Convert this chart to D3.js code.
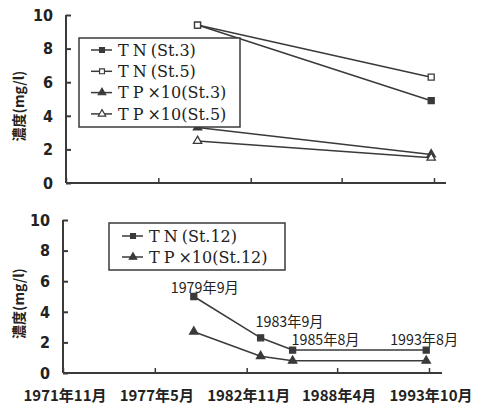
<!DOCTYPE html>
<html>
<head>
<meta charset="utf-8">
<script src="https://cdn.jsdelivr.net/npm/d3@7"></script>
<style>
  body { margin: 0; background: #fff; }
  svg { display: block; }
</style>
</head>
<body>
<svg id="chart" width="483" height="406"></svg>
<script>
// Survey dates and nutrient concentrations (mg/l); TP is shown ×10
const axisDates = ["1971-11", "1977-05", "1982-11", "1988-04", "1993-10"];
const axisLabels = ["1971年11月", "1977年5月", "1982年11月", "1988年4月", "1993年10月"];
const yTicks = [0, 2, 4, 6, 8, 10];

const datesUpper = ["1979-09", "1993-08"];
const tnSt3 = [9.4, 4.9];
const tnSt5 = [9.4, 6.3];
const tpSt3 = [3.3, 1.7];
const tpSt5 = [2.5, 1.5];

const datesLower = ["1979-09", "1983-09", "1985-08", "1993-08"];
const dateNotes = ["1979年9月", "1983年9月", "1985年8月", "1993年8月"];
const tnSt12 = [5.0, 2.3, 1.5, 1.5];
const tpSt12 = [2.7, 1.1, 0.8, 0.8];

const parse = d3.timeParse("%Y-%m");
const ink = "#3a3a3a";
const svg = d3.select("#chart");

function panel(opt) {
  const g = svg.append("g");
  const x = d3.scaleTime()
    .domain([parse(axisDates[0]), parse(axisDates[4])])
    .range([opt.x0, opt.x1]);
  const y = d3.scaleLinear().domain([0, 10]).range([opt.yb, opt.yt]);

  // y axis with inward ticks
  const ya = g.append("g").attr("transform", `translate(${opt.x0},0)`)
    .call(d3.axisRight(y).tickValues(yTicks).tickSize(5).tickFormat(""));
  ya.select(".domain").attr("stroke", ink).attr("stroke-width", 2)
    .attr("d", `M0,${opt.yt}V${opt.yb}`);
  ya.selectAll(".tick line").attr("stroke", ink).attr("stroke-width", 2);

  g.selectAll(".ylab").data(yTicks).join("text")
    .attr("x", opt.x0 - 13).attr("y", d => y(d)).attr("dy", "0.36em")
    .attr("text-anchor", "end")
    .style("font", "bold 16px 'DejaVu Sans Condensed', 'DejaVu Sans', sans-serif")
    .attr("fill", "#222").text(d => d);

  // x axis with small inward ticks
  const xa = g.append("g").attr("transform", `translate(0,${opt.yb})`)
    .call(d3.axisTop(x).tickValues(axisDates.map(parse)).tickSize(5).tickFormat(""));
  xa.select(".domain").attr("stroke", ink).attr("stroke-width", 2)
    .attr("d", `M${opt.x0},0H${opt.xEnd}`);
  xa.selectAll(".tick line").attr("stroke", ink).attr("stroke-width", 1.5);

  // y title
  g.append("text")
    .attr("transform", `translate(${opt.titleX},${(opt.yt + opt.yb) / 2 + 7}) rotate(-90)`)
    .attr("text-anchor", "middle")
    .style("font", "bold 14px 'Noto Sans CJK JP', sans-serif")
    .attr("fill", "#222").text("濃度(mg/l)");

  return { g, x, y };
}

const sym = {
  square: d3.symbol().type(d3.symbolSquare).size(36),
  triangle: d3.symbol().type(d3.symbolTriangle).size(30)
};

function series(p, dates, vals, shape, filled) {
  const pts = dates.map((d, i) => [p.x(parse(d)), p.y(vals[i])]);
  p.g.append("path").attr("d", d3.line()(pts))
    .attr("fill", "none").attr("stroke", ink).attr("stroke-width", 1.5);
  p.g.selectAll(null).data(pts).join("path")
    .attr("transform", d => `translate(${d[0]},${d[1]})`)
    .attr("d", sym[shape]())
    .attr("fill", filled ? ink : "#fff")
    .attr("stroke", ink).attr("stroke-width", 1.3);
}

function legend(p, box, items) {
  const lg = p.g.append("g");
  lg.append("rect").attr("x", box.x).attr("y", box.y)
    .attr("width", box.w).attr("height", box.h)
    .attr("fill", "#fff").attr("stroke", ink).attr("stroke-width", 1.5);
  items.forEach((it, i) => {
    const cy = box.y + box.first + i * box.step;
    lg.append("line").attr("x1", box.lx).attr("x2", box.lx + 21)
      .attr("y1", cy).attr("y2", cy).attr("stroke", ink).attr("stroke-width", 1.5);
    lg.append("path").attr("transform", `translate(${box.lx + 11},${cy})`)
      .attr("d", d3.symbol().type(it.shape === "square" ? d3.symbolSquare : d3.symbolTriangle).size(24)())
      .attr("fill", it.filled ? ink : "#fff")
      .attr("stroke", ink).attr("stroke-width", 1.2);
    const t = lg.append("text").attr("x", box.lx + 27).attr("y", cy).attr("dy", "0.35em")
      .style("font", "16px 'DejaVu Serif', 'Liberation Serif', serif").attr("fill", "#222");
    t.append("tspan").attr("letter-spacing", "4px").text(it.head);
    t.append("tspan").text(it.tail);
  });
}

// Upper panel: St.3 and St.5 (St.5 drawn on top where the first points coincide)
const up = panel({ x0: 66, x1: 434, xEnd: 446, yt: 15, yb: 183, titleX: 24 });
series(up, datesUpper, tnSt3, "square", true);
series(up, datesUpper, tnSt5, "square", false);
series(up, datesUpper, tpSt3, "triangle", true);
series(up, datesUpper, tpSt5, "triangle", false);
legend(up, { x: 79, y: 38, w: 161, h: 89, lx: 91, first: 12, step: 21.3 }, [
  { head: "TN", tail: "(St.3)", shape: "square", filled: true },
  { head: "TN", tail: "(St.5)", shape: "square", filled: false },
  { head: "TP", tail: "×10(St.3)", shape: "triangle", filled: true },
  { head: "TP", tail: "×10(St.5)", shape: "triangle", filled: false }
]);

// Lower panel: St.12 with survey-date notes
const lo = panel({ x0: 63, x1: 429, xEnd: 442, yt: 220, yb: 373, titleX: 24 });
series(lo, datesLower, tnSt12, "square", true);
series(lo, datesLower, tpSt12, "triangle", true);
legend(lo, { x: 109, y: 223, w: 176, h: 47, lx: 122, first: 13, step: 21 }, [
  { head: "TN", tail: "(St.12)", shape: "square", filled: true },
  { head: "TP", tail: "×10(St.12)", shape: "triangle", filled: true }
]);

const noteOffset = [[11, -4], [29, -10.5], [33, -5.5], [-2, -5.5]];
lo.g.selectAll(".note").data(datesLower).join("text")
  .attr("x", (d, i) => lo.x(parse(d)) + noteOffset[i][0])
  .attr("y", (d, i) => lo.y(tnSt12[i]) + noteOffset[i][1])
  .attr("text-anchor", "middle")
  .attr("textLength", 68).attr("lengthAdjust", "spacingAndGlyphs")
  .style("font", "15px 'Noto Sans CJK JP', sans-serif")
  .attr("fill", "#222")
  .text((d, i) => dateNotes[i]);

// Date labels under the lower axis
lo.g.selectAll(".xlab").data(axisDates).join("text")
  .attr("x", d => lo.x(parse(d)) + 2).attr("y", 396).attr("dy", "0.35em")
  .attr("text-anchor", "middle")
  .style("font", "bold 15px 'Noto Sans CJK JP', sans-serif")
  .attr("fill", "#222")
  .text((d, i) => axisLabels[i]);
</script>
</body>
</html>
